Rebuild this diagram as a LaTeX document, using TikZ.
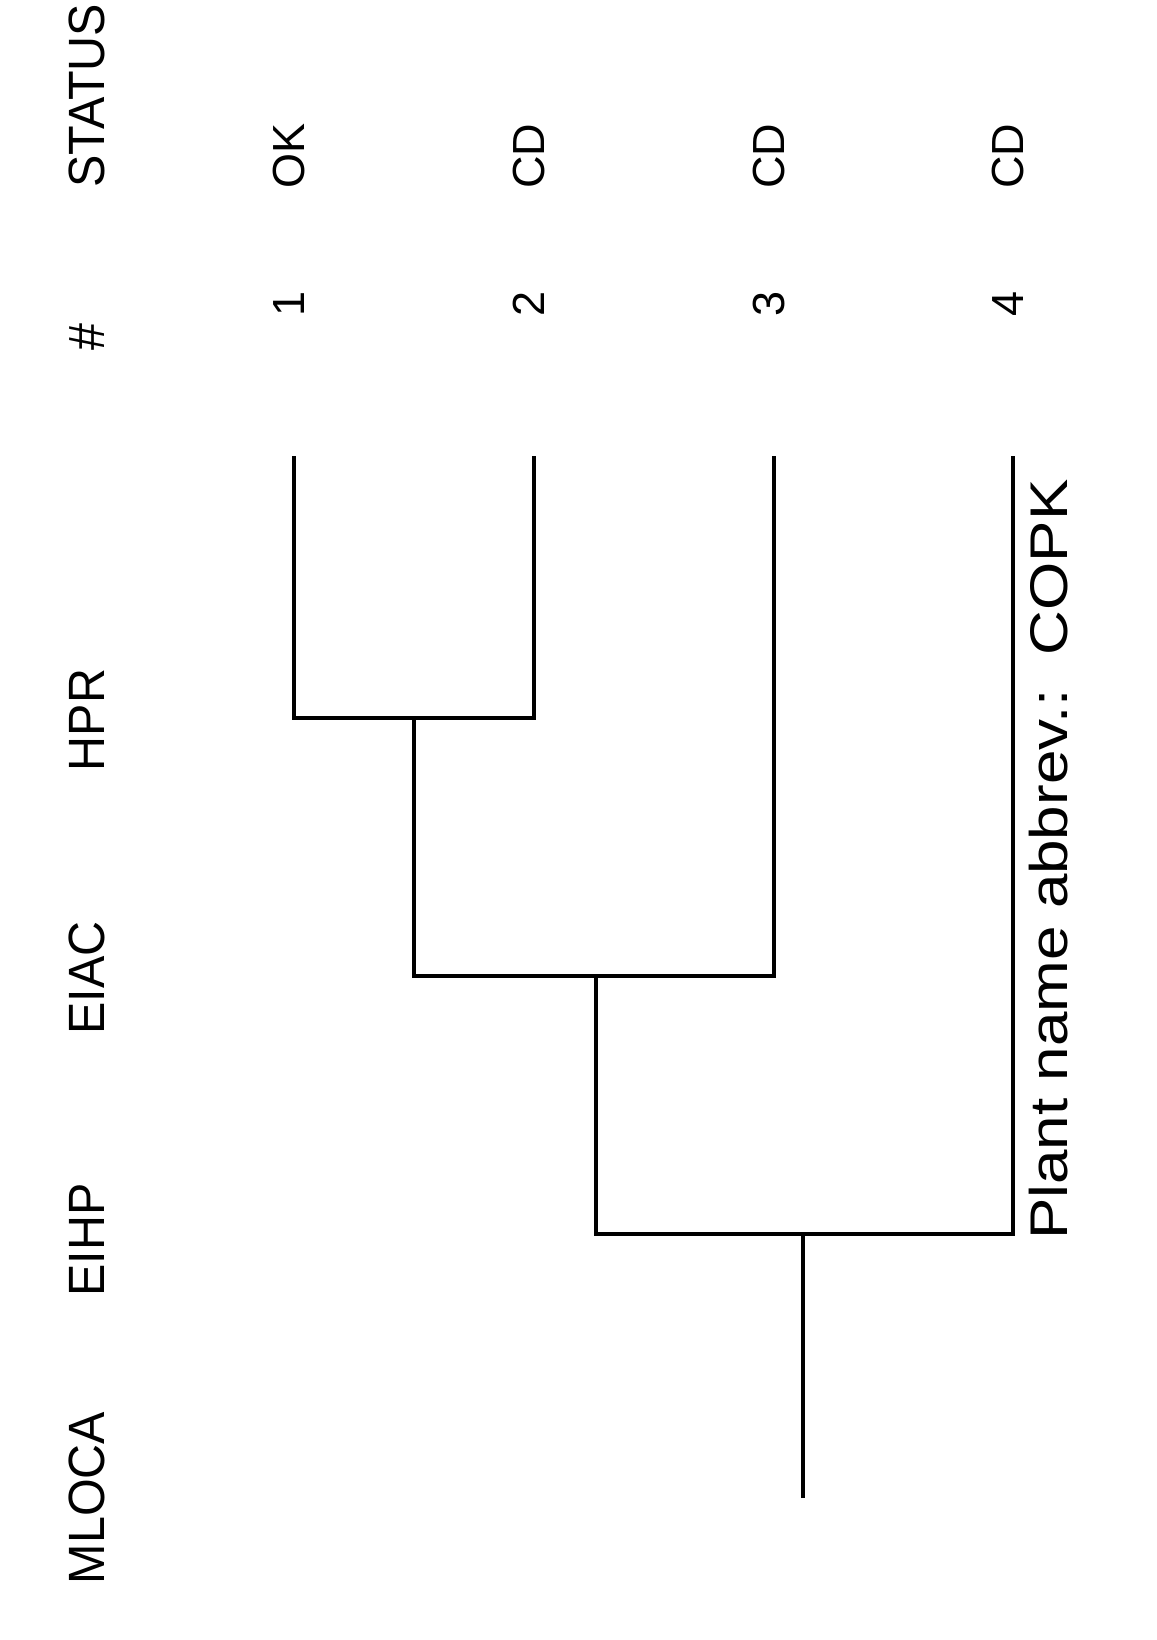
\documentclass[tikz,border=0pt]{standalone}
\usepackage{fontspec}
\setmainfont{Liberation Sans}
\usetikzlibrary{positioning}

\tikzset{
  branch/.style={line width=3.8pt},
  head/.style={rotate=90, anchor=base, inner sep=0pt, xscale=0.95,
    font=\fontsize{51}{55}\selectfont},
  cell/.style={rotate=90, anchor=base, inner sep=0pt,
    font=\fontsize{45}{49}\selectfont},
  foot/.style={rotate=90, anchor=base west, inner sep=0pt, xscale=1.17,
    font=\fontsize{53}{58}\selectfont},
}

\begin{document}
\begin{tikzpicture}[x=1pt, y=-1pt]
    \useasboundingbox (0,0) rectangle (1156,1640);

    % Column headings
    \node[head] (hstatus) at (104,96) {STATUS};
    \node[head] (hnum) at (104,337) {\#};
    \node[head] (hhpr) at (104,720) {HPR};
    \node[head] (heiac) at (104,978) {EIAC};
    \node[head] (heihp) at (104,1240) {EIHP};
    \node[head] (hmloca) at (104,1498) {MLOCA};

    % Branch points and end points
    \coordinate (mloca) at (803,1498);
    \coordinate (eihp) at (803,1234);
    \coordinate (eiac) at (596,976);
    \coordinate (hpr) at (414,718);
    \coordinate (end1) at (294,456);
    \coordinate (end2) at (534,456);
    \coordinate (end3) at (774,456);
    \coordinate (end4) at (1013,456);

    % Tree
    \draw[branch] (mloca) -- (eihp);
    \draw[branch] (end4) -- (end4 |- eihp) -| (eiac);
    \draw[branch] (end3) -- (end3 |- eiac) -| (hpr);
    \draw[branch] (end1) -- (end1 |- hpr) -- (end2 |- hpr) -- (end2);

    % Sequence numbers
    \node[cell] (n1) at (304,304) {1};
    \node[cell] (n2) at (544,304) {2};
    \node[cell] (n3) at (784,304) {3};
    \node[cell] (n4) at (1023,304) {4};

    % End states
    \node[cell] (s1) at (304,156) {OK};
    \node[cell] (s2) at (544,156) {CD};
    \node[cell] (s3) at (784,156) {CD};
    \node[cell] (s4) at (1023,156) {CD};

    \node[foot] (plant) at (1067,1240) {Plant name abbrev.:~~COPK};
\end{tikzpicture}
\end{document}
